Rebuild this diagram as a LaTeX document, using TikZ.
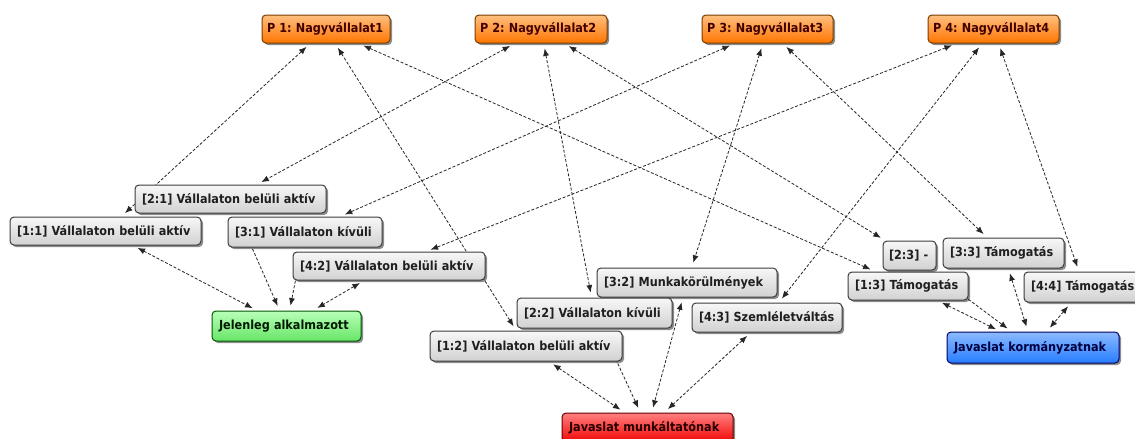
\documentclass[tikz,border=0pt]{standalone}
\usepackage{fontspec}
\setmainfont[FakeStretch=0.9]{DejaVu Sans}
\usetikzlibrary{arrows.meta,shadows,backgrounds}
\definecolor{boxborder}{HTML}{3C3C3C}
\definecolor{orborder}{HTML}{7A3D00}
\tikzset{
  base/.style={rounded corners=4pt, line width=1pt, inner xsep=7pt, inner ysep=0pt,
    minimum height=28pt, align=left, font=\fontsize{12.5}{14}\selectfont\bfseries,
    execute at begin node={\frenchspacing},
    drop shadow={shadow xshift=2pt, shadow yshift=-2pt, opacity=0.45, fill=black}},
  gbox/.style={base, draw=boxborder, top color=white!97!black, bottom color=white!82!black, text=black!88},
  pbox/.style={base, inner xsep=5pt, draw=orborder, top color=orange!50!white, bottom color=orange!92!red, text=black!75!red},
  greenbox/.style={base, draw=green!35!black, top color=green!28!white, bottom color=green!55!white!90!black, text=green!10!black},
  redbox/.style={base, draw=red!40!black, top color=red!50!white, bottom color=red!95!black, text=red!15!black},
  bluebox/.style={base, draw=blue!40!black, top color=cyan!40!blue!45!white, bottom color=blue!60!cyan!85!white, text=blue!25!black},
  link/.style={dashed, dash pattern=on 3pt off 1.8pt, line width=0.8pt, black!85,
    shorten >=5pt, shorten <=5pt},
  dbl/.style={link, {Latex[length=7.5pt,width=6pt]}-{Latex[length=7.5pt,width=6pt]}},
  sgl/.style={link, -{Latex[length=7.5pt,width=6pt]}}
}
\begin{document}
\begin{tikzpicture}[x=1pt,y=-1pt]
\clip (0,0) rectangle (1135,439);
% top nodes
\node[pbox, text width=118pt] (p1) at (326,29) {\mbox{P 1: Nagyvállalat1}};
\node[pbox, text width=122pt] (p2) at (541,29) {\mbox{P 2: Nagyvállalat2}};
\node[pbox, text width=121pt] (p3) at (767.5,29) {\mbox{P 3: Nagyvállalat3}};
\node[pbox, text width=121pt] (p4) at (993.5,29) {\mbox{P 4: Nagyvállalat4}};
% middle nodes
\node[gbox, text width=177pt] (n21) at (230.5,199) {\mbox{[2:1] Vállalaton belüli aktív}};
\node[gbox, text width=177pt] (n11) at (105.5,231) {\mbox{[1:1] Vállalaton belüli aktív}};
\node[gbox, text width=140pt, minimum height=30pt] (n31) at (305,232) {\mbox{[3:1] Vállalaton kívüli}};
\node[gbox, text width=178pt] (n42) at (389,266) {\mbox{[4:2] Vállalaton belüli aktív}};
\node[gbox, text width=166pt, minimum height=29pt] (n32) at (687,282.5) {\mbox{[3:2] Munkakörülmények}};
\node[gbox, text width=141pt, minimum height=30pt] (n22) at (594.5,313) {\mbox{[2:2] Vállalaton kívüli}};
\node[gbox, text width=178pt, minimum height=30pt] (n12) at (526,346) {\mbox{[1:2] Vállalaton belüli aktív}};
\node[gbox, text width=136pt, minimum height=29pt] (n43) at (767,317.5) {\mbox{[4:3] Szemléletváltás}};
\node[gbox, inner xsep=6pt, text width=41pt, minimum height=29pt] (n23) at (909.5,255.5) {\mbox{[2:3] -}};
\node[gbox, text width=107pt, minimum height=30pt] (n33) at (1003.5,253) {\mbox{[3:3] Támogatás}};
\node[gbox, text width=106pt] (n13) at (908,286) {\mbox{[1:3] Támogatás}};
\node[gbox, text width=107pt, minimum height=30pt] (n44) at (1084.5,287) {\mbox{[4:4] Támogatás}};
% bottom nodes
\node[greenbox, text width=135pt, minimum height=30pt] (jel) at (286.5,326) {\mbox{Jelenleg alkalmazott}};
\node[redbox, text width=157pt, minimum height=30pt] (mun) at (647.5,428) {\mbox{Javaslat munkáltatónak}};
\node[bluebox, text width=158pt, minimum height=31pt] (kor) at (1033,347.5) {\mbox{Javaslat kormányzatnak}};
% connectors
\begin{scope}[on background layer]
\fill[white] (0,0) rectangle (1135,439);
\draw[dbl] (p1) -- (n11);
\draw[dbl] (p1) -- (n12);
\draw[dbl] (p1) -- (n13);
\draw[dbl] (p2) -- (n21);
\draw[dbl] (p2) -- (n22);
\draw[dbl] (p2) -- (n23);
\draw[dbl] (p3) -- (n31);
\draw[dbl] (p3) -- (n32);
\draw[dbl] (p3) -- (n33);
\draw[dbl] (p4) -- (n42);
\draw[dbl] (p4) -- (n43);
\draw[dbl] (p4) -- (n44);
\draw[dbl] (n11) -- (jel);
\draw[sgl] (n21) -- (jel);
\draw[sgl] (n31) -- (jel);
\draw[dbl] (n42) -- (jel);
\draw[dbl] (n12) -- (mun);
\draw[sgl] (n22) -- (mun);
\draw[dbl] (n32) -- (mun);
\draw[dbl] (n43) -- (mun);
\draw[dbl] (n13) -- (kor);
\draw[sgl] (n23) -- (kor);
\draw[dbl] (n33) -- (kor);
\draw[dbl] (n44) -- (kor);
\end{scope}
\end{tikzpicture}
\end{document}
